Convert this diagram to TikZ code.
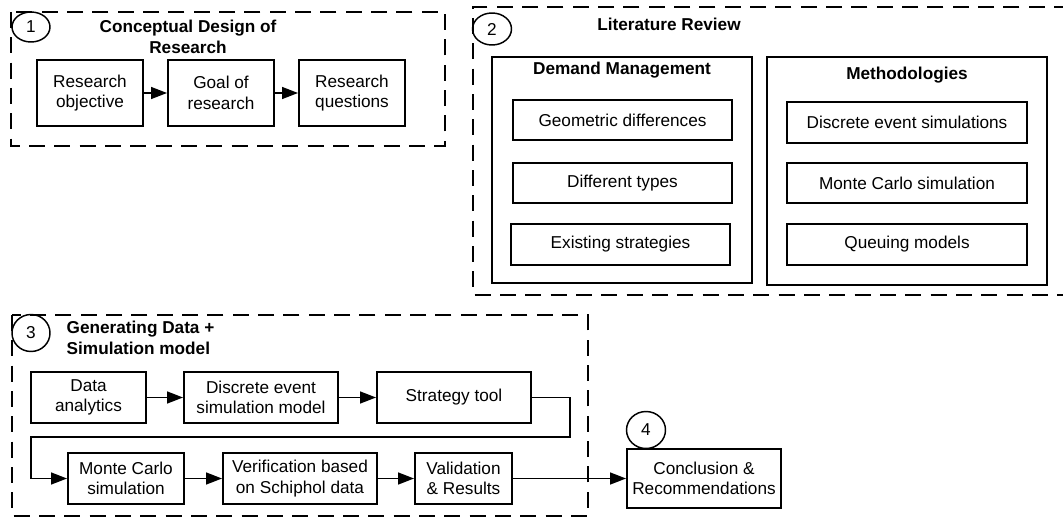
\documentclass[tikz,border=0pt]{standalone}
\usepackage{fontspec}
\setmainfont{Liberation Sans}
\usetikzlibrary{arrows.meta,shapes.geometric}
\tikzset{
	box/.style={draw, line width=1.5pt, align=center, inner sep=2pt},
	stage/.style={draw, line width=1.5pt, dash pattern=on 12pt off 7pt},
	num/.style={draw, ellipse, line width=1.1pt, inner sep=0pt},
	flow/.style={line width=1.1pt, -{Triangle[length=12pt, width=9pt]}},
	heading/.style={font=\fontsize{12.9}{15.5}\selectfont\bfseries, align=center}
}

\begin{document}
\begin{tikzpicture}[x=0.75pt, y=-0.75pt, font=\fontsize{12.9}{15.5}\selectfont]
			%%%%% START %%%%%
			\useasboundingbox (0, 0) rectangle (1063, 517);
			
			% 1
			\draw[stage] (11, 12) rectangle (445, 146);
			\node[num, minimum width=28.5pt, minimum height=22.5pt] (n1) at (31, 27) {1};
			\node[heading] (t1) at (188, 37) {Conceptual Design of\\Research};
			\node[box, minimum width=79.5pt, minimum height=49.5pt] (obj) at (90, 93) {Research\\objective};
			\node[box, minimum width=79.5pt, minimum height=49.5pt] (goal) at (221, 93) {Goal of\\research};
			\node[box, minimum width=79.5pt, minimum height=49.5pt] (quest) at (352, 93) {Research\\questions};
			\draw[flow] (obj) -- (goal);
			\draw[flow] (goal) -- (quest);
			
			% 2
			\draw[stage] (1070, 7) -- (473, 7) -- (473, 295) -- (1070, 295);
			\node[num, minimum width=29.25pt, minimum height=24pt] (n2) at (492, 29) {2};
			\node[heading] (t2) at (669, 24) {Literature Review};
			
			\draw[line width=1.5pt] (492, 57) rectangle (752, 283);
			\node[heading] (dm) at (622, 70) {Demand Management};
			\node[box, minimum width=164.25pt, minimum height=30pt] (geo) at (622.5, 120) {Geometric differences};
			\node[box, minimum width=164.25pt, minimum height=30pt] (types) at (622.5, 183) {Different types};
			\node[box, minimum width=164.25pt, minimum height=30.75pt] (exist) at (620.5, 244.5) {Existing strategies};
			
			\draw[line width=1.5pt] (767, 57) rectangle (1047, 285);
			\node[heading] (meth) at (907, 75) {Methodologies};
			\node[box, minimum width=180pt, minimum height=30.75pt] (des) at (907, 122.5) {Discrete event simulations};
			\node[box, minimum width=180pt, minimum height=30pt] (mcs) at (907, 183) {Monte Carlo simulation};
			\node[box, minimum width=180pt, minimum height=30.75pt] (queue) at (907, 244.5) {Queuing models};
			
			% 3
			\draw[stage] (12, 315) rectangle (588, 516);
			\node[num, minimum width=28.5pt, minimum height=27.75pt] (n3) at (31, 333) {3};
			\node[heading, anchor=west, align=left] (t3) at (62, 338) {Generating Data +\\Simulation model};
			
			\node[box, minimum width=86.25pt, minimum height=38.25pt] (data) at (88.5, 397.5) {Data\\analytics};
			\node[box, minimum width=115.5pt, minimum height=38.25pt] (desm) at (261, 397.5) {Discrete event\\simulation model};
			\node[box, minimum width=115.5pt, minimum height=38.25pt] (tool) at (454, 397.5) {Strategy tool};
			\node[box, minimum width=87pt, minimum height=38.25pt] (monte) at (126, 478.5) {Monte Carlo\\simulation};
			\node[box, minimum width=115.5pt, minimum height=38.25pt] (verif) at (300, 478.5) {Verification based\\on Schiphol data};
			\node[box, minimum width=72.75pt, minimum height=38.25pt] (valid) at (463.5, 478.5) {Validation\\\& Results};
			
			\coordinate (bendR) at (570, 437);
			\coordinate (bendL) at (31, 437);
			\draw[flow] (data) -- (desm);
			\draw[flow] (desm) -- (tool);
			\draw[flow] (tool.east) -| (bendR) -- (bendL) |- (monte.west);
			\draw[flow] (monte) -- (verif);
			\draw[flow] (verif) -- (valid);
			
			% 4
			\node[box, minimum width=115.5pt, minimum height=44.25pt] (concl) at (704, 478.5) {Conclusion \&\\Recommendations};
			\node[num, minimum width=29.25pt, minimum height=27.75pt] (n4) at (646, 430) {4};
			\draw[flow] (valid) -- (concl);
			
			%%%%% END %%%%%
\end{tikzpicture}
\end{document}
